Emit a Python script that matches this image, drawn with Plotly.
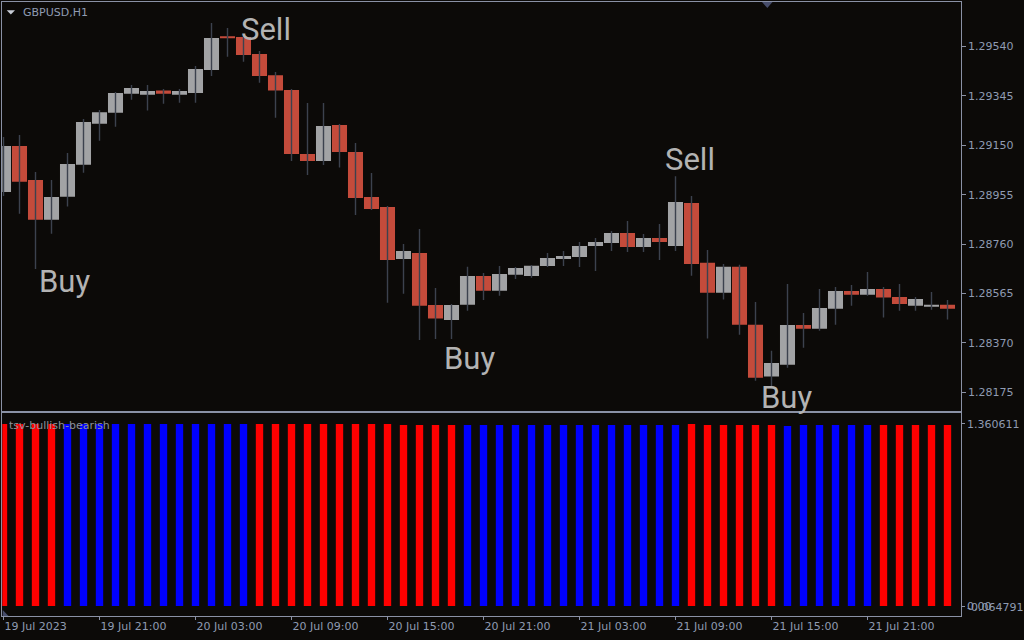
import plotly.graph_objects as go

W, H = 1024, 640

# GBPUSD H1 candles, bar 0 = 19 Jul 2023 15:00
opens = [
    1.28966, 1.29147, 1.29013, 1.28856, 1.28947, 1.29073, 1.29235, 1.29279, 1.29354, 1.29350,
    1.29366, 1.29350, 1.29356, 1.29447, 1.29578, 1.29578, 1.29510, 1.29427, 1.29368, 1.29116,
    1.29088, 1.29230, 1.29124, 1.28946, 1.28907, 1.28701, 1.28725, 1.28520, 1.28460, 1.28521,
    1.28634, 1.28576, 1.28639, 1.28634, 1.28674, 1.28701, 1.28709, 1.28753, 1.28764, 1.28804,
    1.28749, 1.28784, 1.28753, 1.28922, 1.28686, 1.28568, 1.28671, 1.28442, 1.28237, 1.28284,
    1.28441, 1.28426, 1.28505, 1.28575, 1.28560, 1.28583, 1.28551, 1.28517, 1.28513, 1.28521]
highs = [
    1.29183, 1.29191, 1.29045, 1.29013, 1.29120, 1.29254, 1.29289, 1.29360, 1.29388, 1.29388,
    1.29372, 1.29372, 1.29463, 1.29633, 1.29613, 1.29582, 1.29522, 1.29439, 1.29372, 1.29317,
    1.29317, 1.29234, 1.29159, 1.29041, 1.28910, 1.28760, 1.28820, 1.28587, 1.28524, 1.28671,
    1.28646, 1.28674, 1.28670, 1.28678, 1.28725, 1.28733, 1.28768, 1.28784, 1.28812, 1.28851,
    1.28800, 1.28839, 1.29028, 1.28950, 1.28737, 1.28682, 1.28679, 1.28532, 1.28339, 1.28603,
    1.28488, 1.28583, 1.28591, 1.28599, 1.28650, 1.28591, 1.28603, 1.28551, 1.28571, 1.28539]
lows = [
    1.28950, 1.28880, 1.28662, 1.28801, 1.28908, 1.29042, 1.29168, 1.29223, 1.29330, 1.29287,
    1.29314, 1.29318, 1.29318, 1.29424, 1.29500, 1.29480, 1.29397, 1.29259, 1.29088, 1.29033,
    1.29072, 1.29062, 1.28875, 1.28895, 1.28529, 1.28564, 1.28382, 1.28385, 1.28385, 1.28497,
    1.28539, 1.28556, 1.28622, 1.28627, 1.28670, 1.28674, 1.28670, 1.28654, 1.28733, 1.28729,
    1.28729, 1.28697, 1.28733, 1.28635, 1.28387, 1.28541, 1.28402, 1.28221, 1.28192, 1.28272,
    1.28351, 1.28418, 1.28442, 1.28517, 1.28556, 1.28470, 1.28497, 1.28497, 1.28501, 1.28462]
closes = [
    1.29147, 1.29006, 1.28856, 1.28946, 1.29076, 1.29242, 1.29281, 1.29356, 1.29376, 1.29364,
    1.29354, 1.29364, 1.29451, 1.29574, 1.29575, 1.29506, 1.29424, 1.29366, 1.29116, 1.29088,
    1.29226, 1.29124, 1.28942, 1.28899, 1.28697, 1.28733, 1.28517, 1.28466, 1.28520, 1.28634,
    1.28576, 1.28642, 1.28666, 1.28675, 1.28705, 1.28713, 1.28753, 1.28768, 1.28804, 1.28749,
    1.28784, 1.28768, 1.28926, 1.28682, 1.28568, 1.28671, 1.28442, 1.28233, 1.28291, 1.28441,
    1.28426, 1.28508, 1.28575, 1.28560, 1.28583, 1.28549, 1.28524, 1.28543, 1.28521, 1.28505]

# tsv-bullish-bearish histogram
tsv_values = [1.36] * 25 + [1.353] * 18 + [1.36] + [1.353] * 5 + [1.346] + [1.353] * 10
tsv_signal = (["bear"] * 4 + ["bull"] * 12 + ["bear"] * 13 + ["bull"] * 14
              + ["bear"] * 6 + ["bull"] * 6 + ["bear"] * 5)

# arrow labels on the chart: (bar index, price, text)
signals = [
    (3.84, 1.28611, "Buy"),
    (16.38, 1.29609, "Sell"),
    (29.1, 1.28308, "Buy"),
    (42.93, 1.29094, "Sell"),
    (48.96, 1.28155, "Buy"),
]

price_ticks = [1.29540, 1.29345, 1.29150, 1.28955, 1.28760, 1.28565, 1.28370, 1.28175]
time_tick_bars = [0, 6, 12, 18, 24, 30, 36, 42, 48, 54]
time_tick_labels = ["19 Jul 2023", "19 Jul 21:00", "20 Jul 03:00", "20 Jul 09:00",
                    "20 Jul 15:00", "20 Jul 21:00", "21 Jul 03:00", "21 Jul 09:00",
                    "21 Jul 15:00", "21 Jul 21:00"]

BG = "#0c0a08"
FRAME = "#8a91a5"
LABEL = "#8f9bb2"
UP = "#a2a3a5"
DOWN = "#c44b3b"
WICK = "#3c424e"
FONT = "DejaVu Sans"

bars = list(range(len(opens)))

def px(x):
    return x / W

def py(y):
    return 1 - y / H

fig = go.Figure()

wx, wy = [], []
for i, (h, l) in enumerate(zip(highs, lows)):
    wx += [i, i, None]
    wy += [l, h, None]
fig.add_trace(go.Scatter(x=wx, y=wy, mode="lines", line=dict(color=WICK, width=1.4),
                         xaxis="x", yaxis="y", hoverinfo="skip"))

fig.add_trace(go.Bar(
    x=bars,
    base=[min(o, c) for o, c in zip(opens, closes)],
    y=[max(abs(c - o), 0.00002) for o, c in zip(opens, closes)],
    marker=dict(color=[UP if c >= o else DOWN for o, c in zip(opens, closes)], line_width=0),
    width=0.94, xaxis="x", yaxis="y", hoverinfo="skip"))

fig.add_trace(go.Bar(
    x=bars, y=tsv_values,
    marker=dict(color=["#0000ff" if s == "bull" else "#ff0000" for s in tsv_signal], line_width=0),
    width=0.46, xaxis="x2", yaxis="y2", hoverinfo="skip"))

axis_common = dict(showline=True, mirror=True, linecolor=FRAME, linewidth=1,
                   showgrid=False, zeroline=False, tickcolor=FRAME,
                   tickfont=dict(family=FONT, size=11, color=LABEL))
xr = [-0.075, 59.825]

fig.update_layout(
    width=W, height=H,
    margin=dict(l=0, r=0, t=0, b=0),
    paper_bgcolor=BG, plot_bgcolor=BG,
    showlegend=False, hovermode=False, barmode="overlay",
    xaxis=dict(domain=[px(2.3), px(960.7)], range=xr, anchor="y",
               showticklabels=False, ticks="", **axis_common),
    yaxis=dict(domain=[py(411.3), py(2.3)], range=[1.281001, 1.297145], anchor="x",
               side="right", tickvals=price_ticks, ticktext=["%.5f" % p for p in price_ticks],
               ticks="outside", ticklen=4, **axis_common),
    xaxis2=dict(domain=[px(2.3), px(960.7)], range=xr, anchor="y2",
                tickvals=time_tick_bars, ticktext=time_tick_labels,
                ticks="outside", ticklen=3, ticklabelposition="outside right", **axis_common),
    yaxis2=dict(domain=[py(616), py(413.3)], range=[-0.0747, 1.440], anchor="x2",
                side="right", tickvals=[1.360611, 0], ticktext=["1.360611", "0.00"],
                ticks="outside", ticklen=3, **axis_common),
)

for i, p, t in signals:
    fig.add_annotation(x=i, y=p, xref="x", yref="y", text=t, showarrow=False,
                       xanchor="center", yanchor="middle",
                       font=dict(family="Roboto", size=31, color="#b3b3b3"))

fig.add_annotation(x=px(21), y=py(12.7), xref="paper", yref="paper", text="GBPUSD,H1",
                   showarrow=False, xanchor="left", yanchor="middle",
                   font=dict(family=FONT, size=11, color=LABEL))
fig.add_annotation(x=px(6.5), y=py(425), xref="paper", yref="paper", text="tsv-bullish-bearish",
                   showarrow=False, xanchor="left", yanchor="middle",
                   font=dict(family=FONT, size=11, color="#8c9099"))
fig.add_annotation(x=px(964.5), y=py(607.5), xref="paper", yref="paper", text="-0.064791",
                   showarrow=False, xanchor="left", yanchor="middle",
                   font=dict(family=FONT, size=11, color=LABEL))

# small window markers
fig.add_shape(type="path", xref="paper", yref="paper",
              path="M %f %f L %f %f L %f %f Z" % (px(6.7), py(10.3), px(15), py(10.3), px(10.85), py(14.5)),
              fillcolor="#c8ccd6", line_width=0)
fig.add_shape(type="path", xref="paper", yref="paper",
              path="M %f %f L %f %f L %f %f Z" % (px(762), py(2), px(772.5), py(2), px(767.3), py(8)),
              fillcolor="#474d6b", line_width=0)
fig.add_shape(type="path", xref="paper", yref="paper",
              path="M %f %f L %f %f L %f %f Z" % (px(2.7), py(610), px(2.7), py(616), px(8.5), py(616)),
              fillcolor="#474d6b", line_width=0)

fig.write_html("out.html", config={"displayModeBar": False},
               post_script="document.body.style.margin='0';document.body.style.background='%s';" % BG)
